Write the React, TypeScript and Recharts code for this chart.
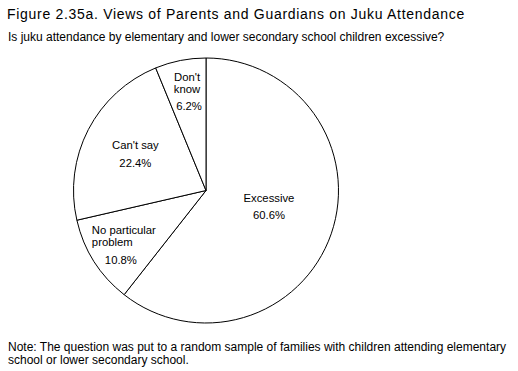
import { PieChart, Pie, Cell } from 'recharts';

const categories = ['Excessive', 'No particular problem', "Can't say", "Don't know"];
const shares = [60.6, 10.8, 22.4, 6.2];
const labelLines = [['Excessive'], ['No particular', 'problem'], ["Can't say"], ["Don't", 'know']];
// where each label block sits, as fraction of radius and a nudge off the mid angle
const labelRadius = [0.49, 0.77, 0.6, 0.76];
const labelAngleShift = [5.0, 0, 0, -0.3];

const data = categories.map((name, i) => ({ name, value: shares[i] }));

const RADIAN = Math.PI / 180;
const font = '"Liberation Sans", Arial, Helvetica, sans-serif';

const renderLabel = (props: any) => {
  const { cx, cy, midAngle, outerRadius, index, value } = props;
  const r = outerRadius * labelRadius[index];
  const a = (midAngle + labelAngleShift[index]) * RADIAN;
  const x = cx + r * Math.cos(a);
  const y = cy - r * Math.sin(a);
  const lines = labelLines[index];
  const leftAligned = index === 1;
  const blockH = (lines.length - 1) * 12 + 17.5;
  const top = y - blockH / 2;
  const lx = leftAligned ? x - 28 : x;
  const anchor = leftAligned ? 'start' : 'middle';
  return (
    <g>
      {lines.map((ln, i) => (
        <text
          key={i}
          x={lx}
          y={top + i * 12}
          textAnchor={anchor}
          dominantBaseline="central"
          fontSize={11.3}
          fontFamily={font}
          fill="#000"
        >
          {ln}
        </text>
      ))}
      <text
        x={leftAligned ? lx + 13 : index === 3 ? lx + 2 : lx}
        y={top + blockH}
        textAnchor={anchor}
        dominantBaseline="central"
        fontSize={11.3}
        fontFamily={font}
        fill="#000"
      >
        {value.toFixed(1)}%
      </text>
    </g>
  );
};

export default function App() {
  return (
    <div style={{ position: 'absolute', left: 0, top: 0, width: 518, height: 371, background: '#fff', fontFamily: font, color: '#000' }}>
      <div style={{ position: 'absolute', left: 7, top: 6, fontSize: 14, letterSpacing: 0.7, whiteSpace: 'nowrap' }}>
        Figure 2.35a. Views of Parents and Guardians on Juku Attendance
      </div>
      <div style={{ position: 'absolute', left: 8, top: 30, fontSize: 12, whiteSpace: 'nowrap' }}>
        Is juku attendance by elementary and lower secondary school children excessive?
      </div>
      <PieChart width={518} height={371} margin={{ top: 0, right: 0, bottom: 0, left: 0 }}>
        <Pie
          data={data}
          dataKey="value"
          nameKey="name"
          cx={206}
          cy={190.5}
          outerRadius={132.5}
          startAngle={90}
          endAngle={-270}
          stroke="#000"
          strokeWidth={1}
          labelLine={false}
          label={renderLabel}
          isAnimationActive={false}
        >
          {data.map((d, i) => (
            <Cell key={`cell-${i}`} fill="#fff" />
          ))}
        </Pie>
      </PieChart>
      <div style={{ position: 'absolute', left: 8, top: 341, fontSize: 12, lineHeight: '13px', whiteSpace: 'nowrap' }}>
        Note: The question was put to a random sample of families with children attending elementary
        <br />
        school or lower secondary school.
      </div>
    </div>
  );
}
